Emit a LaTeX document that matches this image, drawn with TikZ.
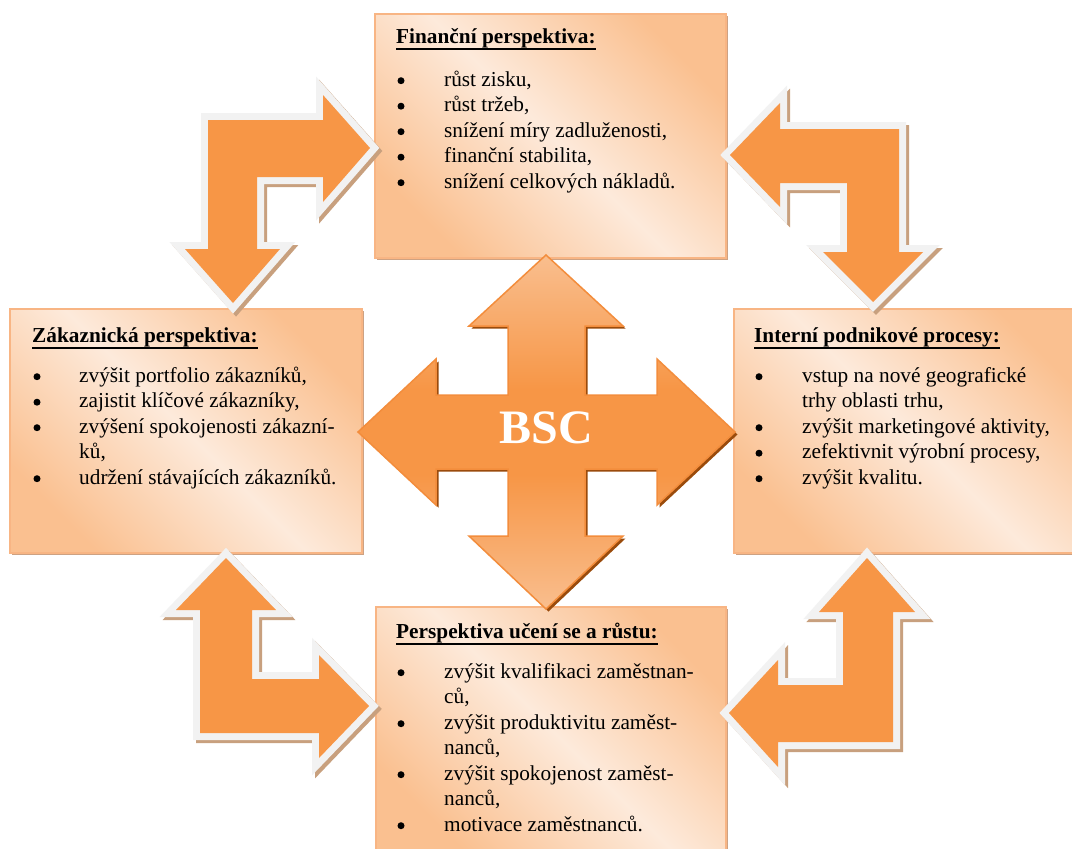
\documentclass[tikz,border=0pt]{standalone}
\usepackage{fontspec}
\setmainfont{Liberation Serif}
\definecolor{boxdark}{HTML}{FAC090}
\definecolor{boxlight}{HTML}{FDEADB}
\definecolor{boxline}{HTML}{F8B584}
\definecolor{boxshadow}{HTML}{CDA283}
\definecolor{arrfill}{HTML}{F79646}
\definecolor{arrborder}{HTML}{F2F2F2}
\definecolor{arrshadow}{HTML}{C8A07E}
\definecolor{crosslight}{HTML}{F9BE8E}
\definecolor{crossline}{HTML}{F38D3C}
\definecolor{crossshadow}{HTML}{9A4B0C}
\pgfdeclareverticalshading{crossshade}{100bp}{color(0bp)=(crosslight); color(25bp)=(crosslight); color(44bp)=(arrfill); color(56bp)=(arrfill); color(75bp)=(crosslight); color(100bp)=(crosslight)}
\newcommand\fs{\fontsize{21.3}{25.5}\selectfont}
\newcommand\hdu[1]{\setbox0\hbox{#1}\rlap{\rule[-6.5pt]{\wd0}{2pt}}\box0}
\newcommand\bentarrow[1]{%
  \filldraw[arrshadow, line width=14pt, line join=miter, shift={(3,3)}] #1 -- cycle;
  \draw[arrborder, line width=14pt, line join=miter] #1 -- cycle;
  \fill[arrfill] #1 -- cycle;}
\begin{document}
\begin{tikzpicture}[x=1pt,y=-1pt,
  pbox/.style={draw=boxline, line width=1.5pt, anchor=north west, inner sep=0pt,
    top color=boxdark, bottom color=boxdark, middle color=boxlight, shading angle=-45},
  hd/.style={anchor=base west, inner sep=0pt, font=\fs\bfseries},
  it/.style={anchor=base west, inner sep=0pt, font=\fs},
  bl/.style={circle, fill=black, inner sep=0pt, minimum size=7pt, yshift=5.3pt}]
\useasboundingbox (0,0) rectangle (1072,849);
\fill[white] (0,0) rectangle (1072,849);
% boxes
\fill[boxshadow] (377,16) rectangle (728,260);
\node[pbox, minimum width=351pt, minimum height=244pt] (fin) at (374,13) {};
\fill[boxshadow] (12,311) rectangle (364,555);
\node[pbox, minimum width=352pt, minimum height=244pt] (zak) at (9,308) {};
\fill[boxshadow] (736,311) rectangle (1087,555);
\node[pbox, minimum width=351pt, minimum height=244pt] (int) at (733,308) {};
\fill[boxshadow] (378,609) rectangle (728,853);
\node[pbox, minimum width=350pt, minimum height=244pt] (uce) at (375,606) {};
% top box text
\node[hd] (finh) at (396,43) {\hdu{Finanční perspektiva:}};
\node[bl] (fb1) at (401,86) {};
\node[it] (f1) at (444,86) {růst zisku,};
\node[bl] (fb2) at (401,111.5) {};
\node[it] (f2) at (444,111.5) {růst tržeb,};
\node[bl] (fb3) at (401,137) {};
\node[it] (f3) at (444,137) {snížení míry zadluženosti,};
\node[bl] (fb4) at (401,162.5) {};
\node[it] (f4) at (444,162.5) {finanční stabilita,};
\node[bl] (fb5) at (401,188) {};
\node[it] (f5) at (444,188) {snížení celkových nákladů.};
% left box text
\node[hd] (zakh) at (32,342) {\hdu{Zákaznická perspektiva:}};
\node[bl] (zb1) at (37,382) {};
\node[it] (z1) at (79,382) {zvýšit portfolio zákazníků,};
\node[bl] (zb2) at (37,407.5) {};
\node[it] (z2) at (79,407.5) {zajistit klíčové zákazníky,};
\node[bl] (zb3) at (37,433) {};
\node[it] (z3) at (79,433) {zvýšení spokojenosti zákazní-};
\node[it] (z3b) at (79,458.5) {ků,};
\node[bl] (zb4) at (37,484) {};
\node[it] (z4) at (79,484) {udržení stávajících zákazníků.};
% right box text
\node[hd] (inth) at (754,342) {\hdu{Interní podnikové procesy:}};
\node[bl] (ib1) at (759,382) {};
\node[it] (i1) at (802,382) {vstup na nové geografické};
\node[it] (i1b) at (802,407.5) {trhy oblasti trhu,};
\node[bl] (ib2) at (759,433) {};
\node[it] (i2) at (802,433) {zvýšit marketingové aktivity,};
\node[bl] (ib3) at (759,458.5) {};
\node[it] (i3) at (802,458.5) {zefektivnit výrobní procesy,};
\node[bl] (ib4) at (759,484) {};
\node[it] (i4) at (802,484) {zvýšit kvalitu.};
% bottom box text
\node[hd] (uceh) at (396,638) {\hdu{Perspektiva učení se a růstu:}};
\node[bl] (ub1) at (401,678) {};
\node[it] (u1) at (444,678) {zvýšit kvalifikaci zaměstnan-};
\node[it] (u1b) at (444,703.5) {ců,};
\node[bl] (ub2) at (401,729) {};
\node[it] (u2) at (444,729) {zvýšit produktivitu zaměst-};
\node[it] (u2b) at (444,754.5) {nanců,};
\node[bl] (ub3) at (401,780) {};
\node[it] (u3) at (444,780) {zvýšit spokojenost zaměst-};
\node[it] (u3b) at (444,805.5) {nanců,};
\node[bl] (ub4) at (401,831) {};
\node[it] (u4) at (444,831) {motivace zaměstnanců.};
% bent arrows
\bentarrow{(208,120) -- (323,120) -- (323,95) -- (370,148) -- (323,202) -- (323,177) -- (257,177) -- (257,249) -- (280,249) -- (233,303) -- (185,249) -- (208,249)}
\bentarrow{(730,155) -- (780,103) -- (780,129) -- (899,129) -- (899,252) -- (923,252) -- (873,302) -- (823,252) -- (847,252) -- (847,183) -- (780,183) -- (780,207)}
\bentarrow{(226,558) -- (276,610) -- (252,610) -- (252,679) -- (319,679) -- (319,655) -- (369,706) -- (319,758) -- (319,733) -- (200,733) -- (200,610) -- (176,610)}
\bentarrow{(867,558) -- (915,612) -- (893,612) -- (893,742) -- (778,742) -- (778,767) -- (729,713) -- (778,660) -- (778,685) -- (843,685) -- (843,612) -- (819,612)}
% central cross
\def\crosspath{(546,255) -- (623,326) -- (585,326) -- (585,395) -- (657,395) -- (657,359) -- (735,432) -- (657,505) -- (657,469) -- (585,469) -- (585,536) -- (623,536) -- (546,609) -- (469,536) -- (508,536) -- (508,469) -- (436,469) -- (436,505) -- (358,432) -- (436,359) -- (436,395) -- (508,395) -- (508,326) -- (469,326) -- cycle}
\fill[crossshadow, shift={(2.5,2.5)}] \crosspath;
\draw[crossline, line width=1.5pt, shading=crossshade] \crosspath;
\node[font=\fontsize{48}{48}\selectfont\bfseries, text=white, anchor=base, inner sep=0pt] (bsc) at (546,443) {BSC};
\end{tikzpicture}
\end{document}
